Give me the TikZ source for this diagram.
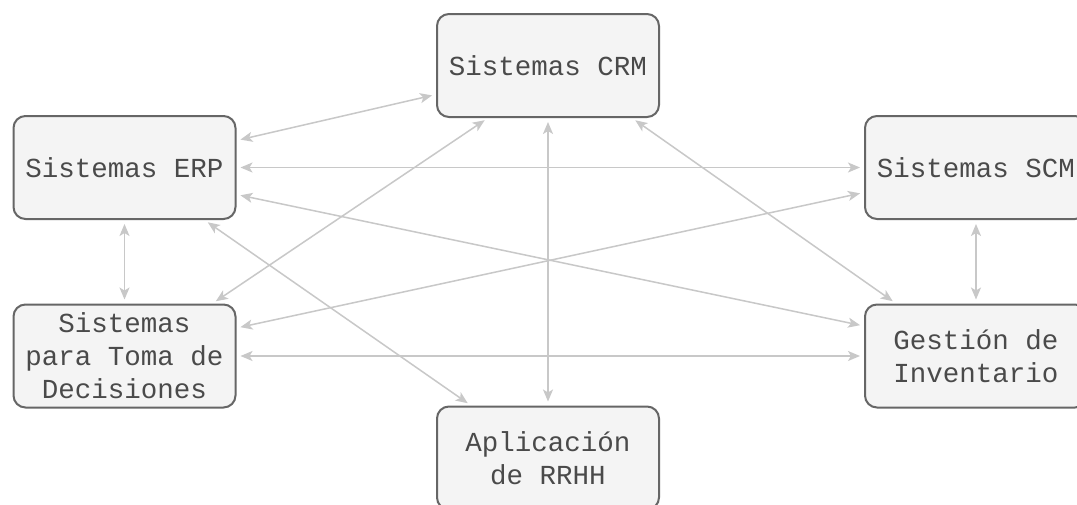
\documentclass[tikz,border=0pt]{standalone}
\usepackage{fontspec}
\newfontfamily\boxfont{Liberation Mono}
\usetikzlibrary{arrows.meta,calc}
\definecolor{boxline}{HTML}{666666}
\definecolor{boxfill}{HTML}{F4F4F4}
\definecolor{boxtext}{HTML}{4A4A4A}
\definecolor{arrowc}{HTML}{C8C8C8}
\begin{document}
\begin{tikzpicture}[x=1pt,y=-1pt,
  sysbox/.style={draw=boxline,line width=2pt,fill=boxfill,rounded corners=12pt,
    minimum width=222pt,minimum height=103pt,align=center,inner sep=0pt,
    text=boxtext,font=\boxfont\fontsize{27.5}{33}\selectfont},
  link/.style={draw=arrowc,line width=1.5pt,
    {Stealth[length=12pt,width=10pt,inset=3pt]}-{Stealth[length=12pt,width=10pt,inset=3pt]},
    shorten <=4pt,shorten >=4pt}]
\useasboundingbox[fill=white] (0,0) rectangle (1077,504);
\node[sysbox] (crm) at (548,65.5) {Sistemas CRM};
\node[sysbox] (erp) at (124.5,167.5) {Sistemas ERP};
\node[sysbox] (scm) at (976,167.5) {Sistemas SCM};
\node[sysbox] (dec) at (124.5,356) {Sistemas\\para Toma de\\Decisiones};
\node[sysbox] (ges) at (976,356) {Gestión de\\Inventario};
\node[sysbox] (rrhh) at (548,458) {Aplicación\\de RRHH};
\draw[link] ($(erp.east)+(0,-27)$) -- ($(crm.west)+(0,29)$);
\draw[link] (erp.east) -- (scm.west);
\draw[link] ($(erp.east)+(0,27)$) -- ($(ges.west)+(0,-30)$);
\draw[link] ($(erp.south)+(80,0)$) -- ($(rrhh.north)+(-77,0)$);
\draw[link] (erp.south) -- (dec.north);
\draw[link] ($(crm.south)+(-60,0)$) -- ($(dec.north)+(88,0)$);
\draw[link] (crm.south) -- (rrhh.north);
\draw[link] ($(crm.south)+(84,0)$) -- ($(ges.north)+(-80,0)$);
\draw[link] ($(scm.west)+(0,25)$) -- ($(dec.east)+(0,-28)$);
\draw[link] (scm.south) -- (ges.north);
\draw[link] (dec.east) -- (ges.west);
\end{tikzpicture}
\end{document}
